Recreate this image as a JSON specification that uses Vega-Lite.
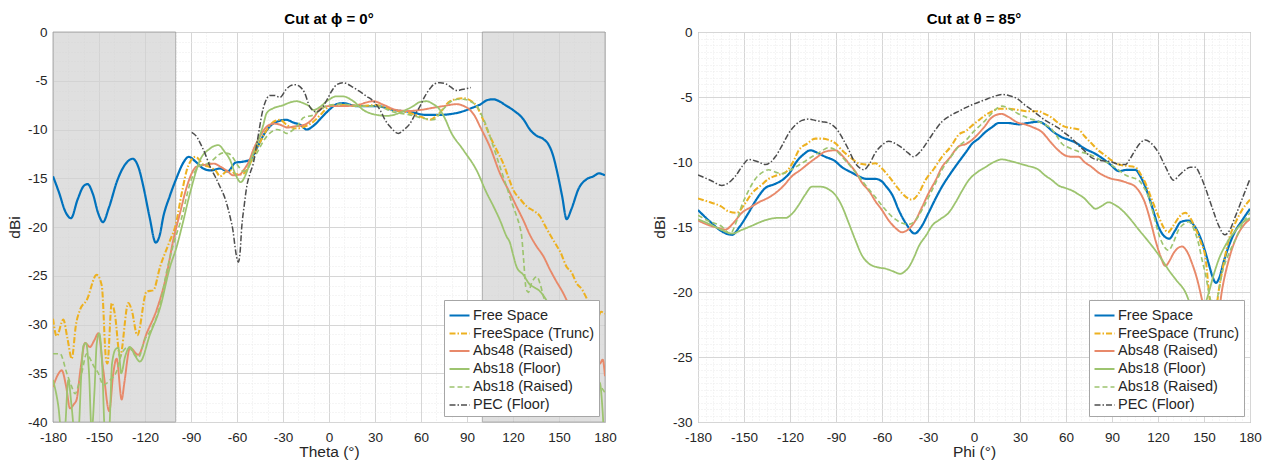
{
"$schema": "https://vega.github.io/schema/vega-lite/v6.json",
"padding": {"left": 6, "top": 11, "right": 5, "bottom": 5},
"background": "white",
"config": {
  "font": "Liberation Sans",
  "view": {"stroke": "#8c8c8c", "strokeWidth": 1},
  "axis": {"domain": false, "ticks": false, "labelFontSize": 13.5, "titleFontSize": 15.5, "titleFontWeight": "normal", "labelColor": "#262626", "titleColor": "#262626", "labelOverlap": false, "labelFlush": false, "labelBound": false},
  "axisX": {"labelPadding": 8, "titlePadding": 1},
  "axisY": {"labelPadding": 6, "titlePadding": 5},
  "legend": {"orient": "bottom-right", "offset": 6, "fillColor": "white", "strokeColor": "#a6a6a6", "padding": 4, "labelFontSize": 14.5, "labelColor": "#262626", "symbolType": "stroke", "symbolSize": 400, "rowPadding": 0, "labelOffset": 2, "title": null}
},
"datasets": {
"shade": [{"t": -180, "t2": -100}, {"t": 100, "t2": 180}],
"phi0": [
{"s":"Free Space","t":-180,"v":-14.8},{"s":"Free Space","t":-176,"v":-16.5},{"s":"Free Space","t":-172,"v":-18.4},{"s":"Free Space","t":-168.3,"v":-19.1},{"s":"Free Space","t":-164,"v":-17.2},{"s":"Free Space","t":-160,"v":-15.8},{"s":"Free Space","t":-157.5,"v":-15.6},{"s":"Free Space","t":-154,"v":-16.6},{"s":"Free Space","t":-150.5,"v":-18.6},{"s":"Free Space","t":-147.4,"v":-19.5},{"s":"Free Space","t":-143.5,"v":-18.0},{"s":"Free Space","t":-138,"v":-15.2},{"s":"Free Space","t":-133,"v":-13.6},{"s":"Free Space","t":-128,"v":-13.0},{"s":"Free Space","t":-124,"v":-14.0},{"s":"Free Space","t":-121,"v":-15.9},{"s":"Free Space","t":-117,"v":-19.0},{"s":"Free Space","t":-113,"v":-21.6},{"s":"Free Space","t":-110.5,"v":-20.9},{"s":"Free Space","t":-108,"v":-18.9},{"s":"Free Space","t":-104,"v":-16.9},{"s":"Free Space","t":-99.5,"v":-15.0},{"s":"Free Space","t":-95,"v":-13.4},{"s":"Free Space","t":-91.5,"v":-12.8},{"s":"Free Space","t":-87,"v":-13.3},{"s":"Free Space","t":-82,"v":-14.0},{"s":"Free Space","t":-77,"v":-14.2},{"s":"Free Space","t":-71,"v":-14.0},{"s":"Free Space","t":-66,"v":-14.3},{"s":"Free Space","t":-61,"v":-13.4},{"s":"Free Space","t":-56,"v":-13.3},{"s":"Free Space","t":-51.5,"v":-13.1},{"s":"Free Space","t":-47,"v":-11.9},{"s":"Free Space","t":-42.8,"v":-10.6},{"s":"Free Space","t":-38,"v":-9.6},{"s":"Free Space","t":-34,"v":-9.2},{"s":"Free Space","t":-28,"v":-9.0},{"s":"Free Space","t":-23,"v":-9.3},{"s":"Free Space","t":-19,"v":-9.5},{"s":"Free Space","t":-14.5,"v":-10.0},{"s":"Free Space","t":-10,"v":-9.6},{"s":"Free Space","t":-5,"v":-8.8},{"s":"Free Space","t":0.7,"v":-7.9},{"s":"Free Space","t":5,"v":-7.4},{"s":"Free Space","t":9.3,"v":-7.3},{"s":"Free Space","t":18,"v":-7.6},{"s":"Free Space","t":31,"v":-7.6},{"s":"Free Space","t":42,"v":-8.0},{"s":"Free Space","t":53,"v":-8.2},{"s":"Free Space","t":63,"v":-8.5},{"s":"Free Space","t":72,"v":-8.5},{"s":"Free Space","t":80,"v":-8.4},{"s":"Free Space","t":86,"v":-8.2},{"s":"Free Space","t":93,"v":-7.8},{"s":"Free Space","t":99,"v":-7.4},{"s":"Free Space","t":103,"v":-7.0},{"s":"Free Space","t":107,"v":-6.9},{"s":"Free Space","t":111,"v":-7.1},{"s":"Free Space","t":115,"v":-7.5},{"s":"Free Space","t":120,"v":-8.0},{"s":"Free Space","t":127,"v":-9.0},{"s":"Free Space","t":131,"v":-10.0},{"s":"Free Space","t":135,"v":-10.6},{"s":"Free Space","t":140,"v":-11.0},{"s":"Free Space","t":143,"v":-11.5},{"s":"Free Space","t":146,"v":-12.6},{"s":"Free Space","t":149,"v":-14.5},{"s":"Free Space","t":152,"v":-16.8},{"s":"Free Space","t":155,"v":-19.2},{"s":"Free Space","t":158,"v":-18.2},{"s":"Free Space","t":163,"v":-16.0},{"s":"Free Space","t":168,"v":-15.1},{"s":"Free Space","t":172.5,"v":-14.8},{"s":"Free Space","t":176,"v":-14.5},{"s":"Free Space","t":180,"v":-14.7},
{"s":"FreeSpace (Trunc)","t":-180,"v":-29.4},{"s":"FreeSpace (Trunc)","t":-177.6,"v":-31.2},{"s":"FreeSpace (Trunc)","t":-173.3,"v":-29.5},{"s":"FreeSpace (Trunc)","t":-170.5,"v":-31.5},{"s":"FreeSpace (Trunc)","t":-167.8,"v":-33.5},{"s":"FreeSpace (Trunc)","t":-165,"v":-30.0},{"s":"FreeSpace (Trunc)","t":-162.4,"v":-28.5},{"s":"FreeSpace (Trunc)","t":-158,"v":-27.5},{"s":"FreeSpace (Trunc)","t":-151.5,"v":-24.9},{"s":"FreeSpace (Trunc)","t":-148.2,"v":-26.0},{"s":"FreeSpace (Trunc)","t":-145.4,"v":-33.6},{"s":"FreeSpace (Trunc)","t":-144.5,"v":-34.0},{"s":"FreeSpace (Trunc)","t":-141.7,"v":-27.8},{"s":"FreeSpace (Trunc)","t":-139.6,"v":-29.0},{"s":"FreeSpace (Trunc)","t":-136.3,"v":-33.3},{"s":"FreeSpace (Trunc)","t":-130.9,"v":-27.8},{"s":"FreeSpace (Trunc)","t":-128.7,"v":-28.5},{"s":"FreeSpace (Trunc)","t":-125,"v":-31.1},{"s":"FreeSpace (Trunc)","t":-118.9,"v":-26.6},{"s":"FreeSpace (Trunc)","t":-114.6,"v":-26.5},{"s":"FreeSpace (Trunc)","t":-110.2,"v":-24.1},{"s":"FreeSpace (Trunc)","t":-104,"v":-21.5},{"s":"FreeSpace (Trunc)","t":-100,"v":-19.8},{"s":"FreeSpace (Trunc)","t":-96,"v":-16.5},{"s":"FreeSpace (Trunc)","t":-92,"v":-13.8},{"s":"FreeSpace (Trunc)","t":-87,"v":-12.8},{"s":"FreeSpace (Trunc)","t":-82,"v":-13.6},{"s":"FreeSpace (Trunc)","t":-77,"v":-13.9},{"s":"FreeSpace (Trunc)","t":-74,"v":-14.2},{"s":"FreeSpace (Trunc)","t":-71,"v":-14.8},{"s":"FreeSpace (Trunc)","t":-67,"v":-14.3},{"s":"FreeSpace (Trunc)","t":-64,"v":-14.2},{"s":"FreeSpace (Trunc)","t":-61,"v":-14.6},{"s":"FreeSpace (Trunc)","t":-57,"v":-14.6},{"s":"FreeSpace (Trunc)","t":-53,"v":-14.0},{"s":"FreeSpace (Trunc)","t":-49,"v":-12.6},{"s":"FreeSpace (Trunc)","t":-45,"v":-11.3},{"s":"FreeSpace (Trunc)","t":-40,"v":-9.9},{"s":"FreeSpace (Trunc)","t":-36,"v":-9.2},{"s":"FreeSpace (Trunc)","t":-32,"v":-9.0},{"s":"FreeSpace (Trunc)","t":-27,"v":-9.6},{"s":"FreeSpace (Trunc)","t":-21,"v":-9.9},{"s":"FreeSpace (Trunc)","t":-16,"v":-9.7},{"s":"FreeSpace (Trunc)","t":-10.2,"v":-9.2},{"s":"FreeSpace (Trunc)","t":-5,"v":-8.4},{"s":"FreeSpace (Trunc)","t":0.6,"v":-7.6},{"s":"FreeSpace (Trunc)","t":9,"v":-7.5},{"s":"FreeSpace (Trunc)","t":20,"v":-7.6},{"s":"FreeSpace (Trunc)","t":31,"v":-7.5},{"s":"FreeSpace (Trunc)","t":42,"v":-8.0},{"s":"FreeSpace (Trunc)","t":52.8,"v":-8.3},{"s":"FreeSpace (Trunc)","t":60,"v":-8.7},{"s":"FreeSpace (Trunc)","t":65.9,"v":-9.0},{"s":"FreeSpace (Trunc)","t":72,"v":-8.3},{"s":"FreeSpace (Trunc)","t":79,"v":-7.1},{"s":"FreeSpace (Trunc)","t":87.6,"v":-6.8},{"s":"FreeSpace (Trunc)","t":93,"v":-7.1},{"s":"FreeSpace (Trunc)","t":96.3,"v":-7.6},{"s":"FreeSpace (Trunc)","t":100,"v":-8.8},{"s":"FreeSpace (Trunc)","t":105,"v":-10.7},{"s":"FreeSpace (Trunc)","t":109,"v":-12.0},{"s":"FreeSpace (Trunc)","t":113.7,"v":-13.5},{"s":"FreeSpace (Trunc)","t":117,"v":-14.9},{"s":"FreeSpace (Trunc)","t":120.2,"v":-16.2},{"s":"FreeSpace (Trunc)","t":125,"v":-17.2},{"s":"FreeSpace (Trunc)","t":129,"v":-17.9},{"s":"FreeSpace (Trunc)","t":133,"v":-18.3},{"s":"FreeSpace (Trunc)","t":137.6,"v":-18.9},{"s":"FreeSpace (Trunc)","t":141,"v":-19.9},{"s":"FreeSpace (Trunc)","t":144.2,"v":-20.8},{"s":"FreeSpace (Trunc)","t":148,"v":-21.8},{"s":"FreeSpace (Trunc)","t":151,"v":-22.6},{"s":"FreeSpace (Trunc)","t":155,"v":-24.1},{"s":"FreeSpace (Trunc)","t":158,"v":-24.6},{"s":"FreeSpace (Trunc)","t":161.6,"v":-25.8},{"s":"FreeSpace (Trunc)","t":165,"v":-26.4},{"s":"FreeSpace (Trunc)","t":168,"v":-27.3},{"s":"FreeSpace (Trunc)","t":171,"v":-28.2},{"s":"FreeSpace (Trunc)","t":174.6,"v":-29.5},{"s":"FreeSpace (Trunc)","t":177.5,"v":-28.7},{"s":"FreeSpace (Trunc)","t":180,"v":-28.9},
{"s":"Abs48 (Raised)","t":-180,"v":-36.4},{"s":"Abs48 (Raised)","t":-177,"v":-35.2},{"s":"Abs48 (Raised)","t":-174.3,"v":-34.7},{"s":"Abs48 (Raised)","t":-171.5,"v":-36.3},{"s":"Abs48 (Raised)","t":-168.9,"v":-38.6},{"s":"Abs48 (Raised)","t":-166.5,"v":-38.2},{"s":"Abs48 (Raised)","t":-164.6,"v":-37.7},{"s":"Abs48 (Raised)","t":-162,"v":-34.5},{"s":"Abs48 (Raised)","t":-159.1,"v":-31.9},{"s":"Abs48 (Raised)","t":-155.9,"v":-32.3},{"s":"Abs48 (Raised)","t":-153,"v":-31.6},{"s":"Abs48 (Raised)","t":-150.4,"v":-30.9},{"s":"Abs48 (Raised)","t":-147.2,"v":-34.7},{"s":"Abs48 (Raised)","t":-143.3,"v":-38.9},{"s":"Abs48 (Raised)","t":-140.7,"v":-35.0},{"s":"Abs48 (Raised)","t":-138.5,"v":-33.5},{"s":"Abs48 (Raised)","t":-135.2,"v":-37.7},{"s":"Abs48 (Raised)","t":-133.5,"v":-36.0},{"s":"Abs48 (Raised)","t":-129.8,"v":-32.4},{"s":"Abs48 (Raised)","t":-124.4,"v":-33.1},{"s":"Abs48 (Raised)","t":-118.9,"v":-30.9},{"s":"Abs48 (Raised)","t":-112.4,"v":-28.5},{"s":"Abs48 (Raised)","t":-105.8,"v":-24.8},{"s":"Abs48 (Raised)","t":-101.5,"v":-21.3},{"s":"Abs48 (Raised)","t":-97.2,"v":-18.6},{"s":"Abs48 (Raised)","t":-92.8,"v":-15.9},{"s":"Abs48 (Raised)","t":-86.3,"v":-13.8},{"s":"Abs48 (Raised)","t":-80,"v":-13.6},{"s":"Abs48 (Raised)","t":-75,"v":-13.5},{"s":"Abs48 (Raised)","t":-71,"v":-13.8},{"s":"Abs48 (Raised)","t":-66,"v":-14.3},{"s":"Abs48 (Raised)","t":-62.6,"v":-14.7},{"s":"Abs48 (Raised)","t":-58,"v":-14.6},{"s":"Abs48 (Raised)","t":-55.9,"v":-14.2},{"s":"Abs48 (Raised)","t":-52,"v":-13.2},{"s":"Abs48 (Raised)","t":-49.4,"v":-12.1},{"s":"Abs48 (Raised)","t":-45,"v":-10.7},{"s":"Abs48 (Raised)","t":-40.6,"v":-9.7},{"s":"Abs48 (Raised)","t":-36,"v":-9.4},{"s":"Abs48 (Raised)","t":-32,"v":-9.5},{"s":"Abs48 (Raised)","t":-27,"v":-9.8},{"s":"Abs48 (Raised)","t":-23.3,"v":-9.7},{"s":"Abs48 (Raised)","t":-18,"v":-9.6},{"s":"Abs48 (Raised)","t":-14.5,"v":-9.4},{"s":"Abs48 (Raised)","t":-10,"v":-8.8},{"s":"Abs48 (Raised)","t":-5.9,"v":-7.9},{"s":"Abs48 (Raised)","t":0,"v":-7.6},{"s":"Abs48 (Raised)","t":9,"v":-7.6},{"s":"Abs48 (Raised)","t":18,"v":-7.5},{"s":"Abs48 (Raised)","t":28.9,"v":-7.1},{"s":"Abs48 (Raised)","t":36,"v":-7.5},{"s":"Abs48 (Raised)","t":44,"v":-8.0},{"s":"Abs48 (Raised)","t":52,"v":-8.1},{"s":"Abs48 (Raised)","t":59.4,"v":-8.0},{"s":"Abs48 (Raised)","t":67,"v":-7.8},{"s":"Abs48 (Raised)","t":74.6,"v":-7.6},{"s":"Abs48 (Raised)","t":83.3,"v":-7.4},{"s":"Abs48 (Raised)","t":88,"v":-7.6},{"s":"Abs48 (Raised)","t":92,"v":-8.0},{"s":"Abs48 (Raised)","t":95,"v":-8.6},{"s":"Abs48 (Raised)","t":98.5,"v":-9.7},{"s":"Abs48 (Raised)","t":105,"v":-11.8},{"s":"Abs48 (Raised)","t":111.5,"v":-14.5},{"s":"Abs48 (Raised)","t":118,"v":-16.5},{"s":"Abs48 (Raised)","t":122,"v":-17.8},{"s":"Abs48 (Raised)","t":126.7,"v":-19.3},{"s":"Abs48 (Raised)","t":131,"v":-20.8},{"s":"Abs48 (Raised)","t":135,"v":-21.9},{"s":"Abs48 (Raised)","t":139.8,"v":-23.0},{"s":"Abs48 (Raised)","t":144.2,"v":-24.4},{"s":"Abs48 (Raised)","t":148,"v":-25.5},{"s":"Abs48 (Raised)","t":152.8,"v":-26.8},{"s":"Abs48 (Raised)","t":157,"v":-28.2},{"s":"Abs48 (Raised)","t":161,"v":-29.6},{"s":"Abs48 (Raised)","t":165,"v":-31.0},{"s":"Abs48 (Raised)","t":169,"v":-32.5},{"s":"Abs48 (Raised)","t":173,"v":-33.6},{"s":"Abs48 (Raised)","t":176.7,"v":-34.0},{"s":"Abs48 (Raised)","t":178.5,"v":-33.6},{"s":"Abs48 (Raised)","t":180,"v":-35.3},
{"s":"Abs18 (Floor)","t":-180,"v":-35.7},{"s":"Abs18 (Floor)","t":-176.5,"v":-38.4},{"s":"Abs18 (Floor)","t":-174.5,"v":-41},{"s":"Abs18 (Floor)","t":-172.5,"v":-41},{"s":"Abs18 (Floor)","t":-170,"v":-35.7},{"s":"Abs18 (Floor)","t":-167.8,"v":-38.5},{"s":"Abs18 (Floor)","t":-166,"v":-41},{"s":"Abs18 (Floor)","t":-163.5,"v":-41},{"s":"Abs18 (Floor)","t":-161.5,"v":-35},{"s":"Abs18 (Floor)","t":-160.2,"v":-32.2},{"s":"Abs18 (Floor)","t":-158.5,"v":-31.9},{"s":"Abs18 (Floor)","t":-156.5,"v":-35},{"s":"Abs18 (Floor)","t":-154.8,"v":-41},{"s":"Abs18 (Floor)","t":-153,"v":-37},{"s":"Abs18 (Floor)","t":-151.5,"v":-32},{"s":"Abs18 (Floor)","t":-149.8,"v":-30.9},{"s":"Abs18 (Floor)","t":-148,"v":-34},{"s":"Abs18 (Floor)","t":-146.1,"v":-41},{"s":"Abs18 (Floor)","t":-143.5,"v":-41},{"s":"Abs18 (Floor)","t":-141.5,"v":-34},{"s":"Abs18 (Floor)","t":-139,"v":-32.5},{"s":"Abs18 (Floor)","t":-137.4,"v":-32.4},{"s":"Abs18 (Floor)","t":-135.5,"v":-35},{"s":"Abs18 (Floor)","t":-133,"v":-33.3},{"s":"Abs18 (Floor)","t":-129.8,"v":-32.3},{"s":"Abs18 (Floor)","t":-126.5,"v":-33.2},{"s":"Abs18 (Floor)","t":-123.3,"v":-33.8},{"s":"Abs18 (Floor)","t":-116.7,"v":-31.0},{"s":"Abs18 (Floor)","t":-110.2,"v":-28.3},{"s":"Abs18 (Floor)","t":-103.7,"v":-24.1},{"s":"Abs18 (Floor)","t":-99.3,"v":-22.0},{"s":"Abs18 (Floor)","t":-96,"v":-20.0},{"s":"Abs18 (Floor)","t":-90.6,"v":-16.5},{"s":"Abs18 (Floor)","t":-84,"v":-13.1},{"s":"Abs18 (Floor)","t":-78,"v":-12.0},{"s":"Abs18 (Floor)","t":-72.2,"v":-11.6},{"s":"Abs18 (Floor)","t":-68,"v":-12.3},{"s":"Abs18 (Floor)","t":-64.6,"v":-13.1},{"s":"Abs18 (Floor)","t":-61,"v":-14.6},{"s":"Abs18 (Floor)","t":-57.6,"v":-15.4},{"s":"Abs18 (Floor)","t":-54,"v":-14.5},{"s":"Abs18 (Floor)","t":-51,"v":-13.1},{"s":"Abs18 (Floor)","t":-47,"v":-11.5},{"s":"Abs18 (Floor)","t":-43,"v":-9.6},{"s":"Abs18 (Floor)","t":-40.6,"v":-8.3},{"s":"Abs18 (Floor)","t":-36,"v":-7.8},{"s":"Abs18 (Floor)","t":-29.8,"v":-7.5},{"s":"Abs18 (Floor)","t":-25,"v":-7.2},{"s":"Abs18 (Floor)","t":-21.1,"v":-7.1},{"s":"Abs18 (Floor)","t":-16.8,"v":-7.3},{"s":"Abs18 (Floor)","t":-13,"v":-7.6},{"s":"Abs18 (Floor)","t":-10.2,"v":-8.0},{"s":"Abs18 (Floor)","t":-6,"v":-7.7},{"s":"Abs18 (Floor)","t":-1.5,"v":-7.1},{"s":"Abs18 (Floor)","t":5,"v":-6.6},{"s":"Abs18 (Floor)","t":9,"v":-6.6},{"s":"Abs18 (Floor)","t":15.9,"v":-7.1},{"s":"Abs18 (Floor)","t":22.4,"v":-8.0},{"s":"Abs18 (Floor)","t":31.1,"v":-8.5},{"s":"Abs18 (Floor)","t":38,"v":-8.6},{"s":"Abs18 (Floor)","t":44.2,"v":-8.4},{"s":"Abs18 (Floor)","t":50,"v":-8.0},{"s":"Abs18 (Floor)","t":55,"v":-7.6},{"s":"Abs18 (Floor)","t":59,"v":-7.2},{"s":"Abs18 (Floor)","t":63.7,"v":-7.1},{"s":"Abs18 (Floor)","t":68,"v":-7.4},{"s":"Abs18 (Floor)","t":72.4,"v":-8.0},{"s":"Abs18 (Floor)","t":76,"v":-9.0},{"s":"Abs18 (Floor)","t":79,"v":-10.1},{"s":"Abs18 (Floor)","t":87.6,"v":-12.1},{"s":"Abs18 (Floor)","t":96.3,"v":-14.2},{"s":"Abs18 (Floor)","t":102.8,"v":-16.5},{"s":"Abs18 (Floor)","t":107,"v":-17.8},{"s":"Abs18 (Floor)","t":111.5,"v":-19.3},{"s":"Abs18 (Floor)","t":115.9,"v":-21.0},{"s":"Abs18 (Floor)","t":118,"v":-21.6},{"s":"Abs18 (Floor)","t":120,"v":-22.8},{"s":"Abs18 (Floor)","t":122.4,"v":-24.1},{"s":"Abs18 (Floor)","t":126.7,"v":-24.9},{"s":"Abs18 (Floor)","t":131,"v":-25.9},{"s":"Abs18 (Floor)","t":134,"v":-26.2},{"s":"Abs18 (Floor)","t":137.6,"v":-26.6},{"s":"Abs18 (Floor)","t":141,"v":-27.3},{"s":"Abs18 (Floor)","t":145,"v":-28.5},{"s":"Abs18 (Floor)","t":150,"v":-29.8},{"s":"Abs18 (Floor)","t":155,"v":-31.0},{"s":"Abs18 (Floor)","t":160,"v":-32.2},{"s":"Abs18 (Floor)","t":165,"v":-33.5},{"s":"Abs18 (Floor)","t":170,"v":-34.8},{"s":"Abs18 (Floor)","t":174,"v":-35.6},{"s":"Abs18 (Floor)","t":176.7,"v":-36.0},{"s":"Abs18 (Floor)","t":178.5,"v":-39.0},{"s":"Abs18 (Floor)","t":179.3,"v":-41},{"s":"Abs18 (Floor)","t":180,"v":-41},
{"s":"Abs18 (Raised)","t":-180,"v":-33.0},{"s":"Abs18 (Raised)","t":-175.4,"v":-33.0},{"s":"Abs18 (Raised)","t":-171,"v":-35.0},{"s":"Abs18 (Raised)","t":-168,"v":-36.3},{"s":"Abs18 (Raised)","t":-165.6,"v":-37.1},{"s":"Abs18 (Raised)","t":-163,"v":-36.0},{"s":"Abs18 (Raised)","t":-161.3,"v":-35.0},{"s":"Abs18 (Raised)","t":-158,"v":-33.0},{"s":"Abs18 (Raised)","t":-155.5,"v":-33.6},{"s":"Abs18 (Raised)","t":-153.7,"v":-34.2},{"s":"Abs18 (Raised)","t":-150.4,"v":-35.0},{"s":"Abs18 (Raised)","t":-147.2,"v":-36.2},{"s":"Abs18 (Raised)","t":-142.8,"v":-35.7},{"s":"Abs18 (Raised)","t":-138.5,"v":-34.8},{"s":"Abs18 (Raised)","t":-135.2,"v":-33.0},{"s":"Abs18 (Raised)","t":-130.9,"v":-32.3},{"s":"Abs18 (Raised)","t":-127.5,"v":-32.9},{"s":"Abs18 (Raised)","t":-124.4,"v":-33.4},{"s":"Abs18 (Raised)","t":-120,"v":-31.5},{"s":"Abs18 (Raised)","t":-116.7,"v":-30.7},{"s":"Abs18 (Raised)","t":-110.2,"v":-28.0},{"s":"Abs18 (Raised)","t":-105.8,"v":-24.5},{"s":"Abs18 (Raised)","t":-101.5,"v":-21.8},{"s":"Abs18 (Raised)","t":-96,"v":-19.0},{"s":"Abs18 (Raised)","t":-90.6,"v":-15.5},{"s":"Abs18 (Raised)","t":-84,"v":-13.7},{"s":"Abs18 (Raised)","t":-79,"v":-13.5},{"s":"Abs18 (Raised)","t":-75.5,"v":-13.1},{"s":"Abs18 (Raised)","t":-72,"v":-12.6},{"s":"Abs18 (Raised)","t":-68.9,"v":-12.4},{"s":"Abs18 (Raised)","t":-65,"v":-12.5},{"s":"Abs18 (Raised)","t":-62.6,"v":-12.9},{"s":"Abs18 (Raised)","t":-59,"v":-13.8},{"s":"Abs18 (Raised)","t":-55.9,"v":-14.3},{"s":"Abs18 (Raised)","t":-51,"v":-13.5},{"s":"Abs18 (Raised)","t":-47,"v":-12.4},{"s":"Abs18 (Raised)","t":-42,"v":-11.0},{"s":"Abs18 (Raised)","t":-38,"v":-10.3},{"s":"Abs18 (Raised)","t":-34,"v":-10.0},{"s":"Abs18 (Raised)","t":-30,"v":-10.2},{"s":"Abs18 (Raised)","t":-27.6,"v":-10.4},{"s":"Abs18 (Raised)","t":-24,"v":-10.1},{"s":"Abs18 (Raised)","t":-20,"v":-9.5},{"s":"Abs18 (Raised)","t":-16.8,"v":-8.8},{"s":"Abs18 (Raised)","t":-10.2,"v":-8.5},{"s":"Abs18 (Raised)","t":-5.9,"v":-8.0},{"s":"Abs18 (Raised)","t":0,"v":-7.5},{"s":"Abs18 (Raised)","t":9,"v":-7.4},{"s":"Abs18 (Raised)","t":20,"v":-7.6},{"s":"Abs18 (Raised)","t":31,"v":-7.6},{"s":"Abs18 (Raised)","t":42,"v":-8.2},{"s":"Abs18 (Raised)","t":52.8,"v":-8.5},{"s":"Abs18 (Raised)","t":60,"v":-8.8},{"s":"Abs18 (Raised)","t":68,"v":-9.0},{"s":"Abs18 (Raised)","t":74,"v":-8.0},{"s":"Abs18 (Raised)","t":79,"v":-7.2},{"s":"Abs18 (Raised)","t":84,"v":-6.9},{"s":"Abs18 (Raised)","t":87.6,"v":-6.9},{"s":"Abs18 (Raised)","t":92,"v":-7.1},{"s":"Abs18 (Raised)","t":96.3,"v":-7.6},{"s":"Abs18 (Raised)","t":99.5,"v":-8.5},{"s":"Abs18 (Raised)","t":102.8,"v":-9.7},{"s":"Abs18 (Raised)","t":106,"v":-11.2},{"s":"Abs18 (Raised)","t":109.4,"v":-12.8},{"s":"Abs18 (Raised)","t":112.5,"v":-14.3},{"s":"Abs18 (Raised)","t":115.9,"v":-15.9},{"s":"Abs18 (Raised)","t":119,"v":-17.4},{"s":"Abs18 (Raised)","t":122.4,"v":-18.9},{"s":"Abs18 (Raised)","t":124.5,"v":-20.0},{"s":"Abs18 (Raised)","t":125.7,"v":-21.0},{"s":"Abs18 (Raised)","t":127,"v":-23.5},{"s":"Abs18 (Raised)","t":128.5,"v":-26.3},{"s":"Abs18 (Raised)","t":130,"v":-26.7},{"s":"Abs18 (Raised)","t":132,"v":-25.8},{"s":"Abs18 (Raised)","t":135.5,"v":-25.1},{"s":"Abs18 (Raised)","t":138,"v":-26.0},{"s":"Abs18 (Raised)","t":139.8,"v":-27.1},{"s":"Abs18 (Raised)","t":144,"v":-28.8},{"s":"Abs18 (Raised)","t":150,"v":-30.5},{"s":"Abs18 (Raised)","t":155,"v":-31.5},{"s":"Abs18 (Raised)","t":160,"v":-32.5},{"s":"Abs18 (Raised)","t":165,"v":-33.5},{"s":"Abs18 (Raised)","t":170,"v":-34.6},{"s":"Abs18 (Raised)","t":174,"v":-35.6},{"s":"Abs18 (Raised)","t":177,"v":-36.3},{"s":"Abs18 (Raised)","t":180,"v":-37.0},
{"s":"PEC (Floor)","t":-89.5,"v":-10.3},{"s":"PEC (Floor)","t":-86,"v":-10.8},{"s":"PEC (Floor)","t":-84,"v":-11.4},{"s":"PEC (Floor)","t":-80.5,"v":-12.6},{"s":"PEC (Floor)","t":-77.6,"v":-13.8},{"s":"PEC (Floor)","t":-74,"v":-14.9},{"s":"PEC (Floor)","t":-71,"v":-15.9},{"s":"PEC (Floor)","t":-67.5,"v":-17.2},{"s":"PEC (Floor)","t":-64.6,"v":-18.9},{"s":"PEC (Floor)","t":-62.5,"v":-20.5},{"s":"PEC (Floor)","t":-61.3,"v":-22.0},{"s":"PEC (Floor)","t":-59.8,"v":-23.4},{"s":"PEC (Floor)","t":-59.1,"v":-23.6},{"s":"PEC (Floor)","t":-58,"v":-22.6},{"s":"PEC (Floor)","t":-56.9,"v":-20.0},{"s":"PEC (Floor)","t":-55.3,"v":-17.8},{"s":"PEC (Floor)","t":-53.7,"v":-15.9},{"s":"PEC (Floor)","t":-51.5,"v":-14.5},{"s":"PEC (Floor)","t":-49.4,"v":-13.5},{"s":"PEC (Floor)","t":-47,"v":-11.4},{"s":"PEC (Floor)","t":-43,"v":-7.9},{"s":"PEC (Floor)","t":-40.5,"v":-6.8},{"s":"PEC (Floor)","t":-38.5,"v":-6.5},{"s":"PEC (Floor)","t":-35.5,"v":-6.5},{"s":"PEC (Floor)","t":-32,"v":-6.7},{"s":"PEC (Floor)","t":-28,"v":-5.9},{"s":"PEC (Floor)","t":-25,"v":-5.5},{"s":"PEC (Floor)","t":-22.2,"v":-5.4},{"s":"PEC (Floor)","t":-19,"v":-5.6},{"s":"PEC (Floor)","t":-16,"v":-6.2},{"s":"PEC (Floor)","t":-12.4,"v":-7.7},{"s":"PEC (Floor)","t":-8,"v":-8.2},{"s":"PEC (Floor)","t":-4.5,"v":-7.8},{"s":"PEC (Floor)","t":-1.5,"v":-7.0},{"s":"PEC (Floor)","t":2,"v":-6.0},{"s":"PEC (Floor)","t":5,"v":-5.4},{"s":"PEC (Floor)","t":9.3,"v":-5.2},{"s":"PEC (Floor)","t":15.9,"v":-5.7},{"s":"PEC (Floor)","t":20,"v":-6.1},{"s":"PEC (Floor)","t":24.6,"v":-6.6},{"s":"PEC (Floor)","t":29,"v":-7.1},{"s":"PEC (Floor)","t":33.3,"v":-8.0},{"s":"PEC (Floor)","t":36.5,"v":-9.0},{"s":"PEC (Floor)","t":39.8,"v":-9.7},{"s":"PEC (Floor)","t":45.2,"v":-10.4},{"s":"PEC (Floor)","t":49,"v":-10.0},{"s":"PEC (Floor)","t":52.8,"v":-9.4},{"s":"PEC (Floor)","t":56,"v":-8.5},{"s":"PEC (Floor)","t":59.4,"v":-7.6},{"s":"PEC (Floor)","t":62.5,"v":-6.6},{"s":"PEC (Floor)","t":65.9,"v":-5.8},{"s":"PEC (Floor)","t":69,"v":-5.3},{"s":"PEC (Floor)","t":72.4,"v":-5.2},{"s":"PEC (Floor)","t":76,"v":-5.3},{"s":"PEC (Floor)","t":79,"v":-5.6},{"s":"PEC (Floor)","t":83.3,"v":-6.0},{"s":"PEC (Floor)","t":86.5,"v":-5.9},{"s":"PEC (Floor)","t":89.8,"v":-5.8},{"s":"PEC (Floor)","t":92.5,"v":-5.7}
],
"theta85": [
{"s":"Free Space","t":-180,"v":-13.7},{"s":"Free Space","t":-172,"v":-14.6},{"s":"Free Space","t":-165,"v":-15.3},{"s":"Free Space","t":-157.8,"v":-15.6},{"s":"Free Space","t":-153,"v":-15.0},{"s":"Free Space","t":-147,"v":-13.9},{"s":"Free Space","t":-142,"v":-12.9},{"s":"Free Space","t":-136.1,"v":-12.0},{"s":"Free Space","t":-130,"v":-11.7},{"s":"Free Space","t":-125.2,"v":-11.4},{"s":"Free Space","t":-120,"v":-10.8},{"s":"Free Space","t":-116.5,"v":-10.1},{"s":"Free Space","t":-111,"v":-9.4},{"s":"Free Space","t":-106.7,"v":-9.1},{"s":"Free Space","t":-102,"v":-9.3},{"s":"Free Space","t":-97,"v":-9.6},{"s":"Free Space","t":-91,"v":-9.9},{"s":"Free Space","t":-86.1,"v":-10.4},{"s":"Free Space","t":-80,"v":-10.8},{"s":"Free Space","t":-75.2,"v":-11.1},{"s":"Free Space","t":-70,"v":-11.3},{"s":"Free Space","t":-64.4,"v":-11.3},{"s":"Free Space","t":-60,"v":-11.5},{"s":"Free Space","t":-57.8,"v":-11.8},{"s":"Free Space","t":-53,"v":-12.6},{"s":"Free Space","t":-49.1,"v":-13.7},{"s":"Free Space","t":-44,"v":-14.8},{"s":"Free Space","t":-38.7,"v":-15.5},{"s":"Free Space","t":-35,"v":-15.1},{"s":"Free Space","t":-29.6,"v":-13.9},{"s":"Free Space","t":-25,"v":-12.8},{"s":"Free Space","t":-20.9,"v":-11.9},{"s":"Free Space","t":-16,"v":-11.0},{"s":"Free Space","t":-10,"v":-10.0},{"s":"Free Space","t":-5,"v":-9.2},{"s":"Free Space","t":-1.3,"v":-8.6},{"s":"Free Space","t":3,"v":-8.2},{"s":"Free Space","t":7.4,"v":-7.7},{"s":"Free Space","t":12,"v":-7.3},{"s":"Free Space","t":16.1,"v":-7.0},{"s":"Free Space","t":22,"v":-7.0},{"s":"Free Space","t":29.1,"v":-7.1},{"s":"Free Space","t":35,"v":-7.0},{"s":"Free Space","t":42.2,"v":-6.9},{"s":"Free Space","t":46,"v":-7.1},{"s":"Free Space","t":50.9,"v":-7.6},{"s":"Free Space","t":57.4,"v":-8.1},{"s":"Free Space","t":62,"v":-8.3},{"s":"Free Space","t":66.1,"v":-8.5},{"s":"Free Space","t":72.6,"v":-9.0},{"s":"Free Space","t":78,"v":-9.3},{"s":"Free Space","t":83.5,"v":-9.7},{"s":"Free Space","t":89,"v":-10.2},{"s":"Free Space","t":94.4,"v":-10.7},{"s":"Free Space","t":100,"v":-10.6},{"s":"Free Space","t":105.2,"v":-10.6},{"s":"Free Space","t":108.5,"v":-11.1},{"s":"Free Space","t":111.7,"v":-11.9},{"s":"Free Space","t":116,"v":-13.4},{"s":"Free Space","t":120.4,"v":-15.0},{"s":"Free Space","t":124,"v":-15.7},{"s":"Free Space","t":127.4,"v":-15.9},{"s":"Free Space","t":131,"v":-15.3},{"s":"Free Space","t":135,"v":-14.6},{"s":"Free Space","t":140,"v":-14.5},{"s":"Free Space","t":143,"v":-14.8},{"s":"Free Space","t":146.5,"v":-15.5},{"s":"Free Space","t":150,"v":-16.6},{"s":"Free Space","t":153,"v":-17.8},{"s":"Free Space","t":155.5,"v":-18.8},{"s":"Free Space","t":157.8,"v":-19.3},{"s":"Free Space","t":160,"v":-18.9},{"s":"Free Space","t":163,"v":-17.6},{"s":"Free Space","t":166.1,"v":-16.5},{"s":"Free Space","t":170,"v":-15.4},{"s":"Free Space","t":174.8,"v":-14.5},{"s":"Free Space","t":180,"v":-13.6},
{"s":"FreeSpace (Trunc)","t":-180,"v":-12.8},{"s":"FreeSpace (Trunc)","t":-172,"v":-13.1},{"s":"FreeSpace (Trunc)","t":-165.2,"v":-13.4},{"s":"FreeSpace (Trunc)","t":-160,"v":-13.8},{"s":"FreeSpace (Trunc)","t":-154.6,"v":-13.9},{"s":"FreeSpace (Trunc)","t":-150,"v":-13.3},{"s":"FreeSpace (Trunc)","t":-144.8,"v":-12.4},{"s":"FreeSpace (Trunc)","t":-139,"v":-11.8},{"s":"FreeSpace (Trunc)","t":-133.9,"v":-11.3},{"s":"FreeSpace (Trunc)","t":-128,"v":-11.0},{"s":"FreeSpace (Trunc)","t":-123,"v":-10.8},{"s":"FreeSpace (Trunc)","t":-118,"v":-10.0},{"s":"FreeSpace (Trunc)","t":-114.3,"v":-9.1},{"s":"FreeSpace (Trunc)","t":-109,"v":-8.6},{"s":"FreeSpace (Trunc)","t":-103.5,"v":-8.2},{"s":"FreeSpace (Trunc)","t":-99,"v":-8.2},{"s":"FreeSpace (Trunc)","t":-94.8,"v":-8.3},{"s":"FreeSpace (Trunc)","t":-90,"v":-8.6},{"s":"FreeSpace (Trunc)","t":-86.1,"v":-9.1},{"s":"FreeSpace (Trunc)","t":-80,"v":-9.7},{"s":"FreeSpace (Trunc)","t":-75.2,"v":-10.1},{"s":"FreeSpace (Trunc)","t":-70,"v":-10.2},{"s":"FreeSpace (Trunc)","t":-64.4,"v":-10.1},{"s":"FreeSpace (Trunc)","t":-60,"v":-10.5},{"s":"FreeSpace (Trunc)","t":-55.6,"v":-11.1},{"s":"FreeSpace (Trunc)","t":-51,"v":-11.8},{"s":"FreeSpace (Trunc)","t":-47,"v":-12.4},{"s":"FreeSpace (Trunc)","t":-40.4,"v":-12.9},{"s":"FreeSpace (Trunc)","t":-36,"v":-12.4},{"s":"FreeSpace (Trunc)","t":-31.7,"v":-11.4},{"s":"FreeSpace (Trunc)","t":-26,"v":-10.5},{"s":"FreeSpace (Trunc)","t":-20.9,"v":-9.6},{"s":"FreeSpace (Trunc)","t":-15,"v":-8.8},{"s":"FreeSpace (Trunc)","t":-10,"v":-7.9},{"s":"FreeSpace (Trunc)","t":-5,"v":-7.6},{"s":"FreeSpace (Trunc)","t":-1.3,"v":-7.2},{"s":"FreeSpace (Trunc)","t":3,"v":-6.8},{"s":"FreeSpace (Trunc)","t":7.4,"v":-6.4},{"s":"FreeSpace (Trunc)","t":12,"v":-6.1},{"s":"FreeSpace (Trunc)","t":16.1,"v":-5.9},{"s":"FreeSpace (Trunc)","t":22,"v":-5.9},{"s":"FreeSpace (Trunc)","t":29.1,"v":-6.0},{"s":"FreeSpace (Trunc)","t":35,"v":-6.1},{"s":"FreeSpace (Trunc)","t":42.2,"v":-6.1},{"s":"FreeSpace (Trunc)","t":46,"v":-6.3},{"s":"FreeSpace (Trunc)","t":50.9,"v":-6.6},{"s":"FreeSpace (Trunc)","t":55,"v":-7.0},{"s":"FreeSpace (Trunc)","t":59.6,"v":-7.3},{"s":"FreeSpace (Trunc)","t":64,"v":-7.4},{"s":"FreeSpace (Trunc)","t":68.3,"v":-7.5},{"s":"FreeSpace (Trunc)","t":72,"v":-8.0},{"s":"FreeSpace (Trunc)","t":76.9,"v":-8.6},{"s":"FreeSpace (Trunc)","t":81,"v":-9.1},{"s":"FreeSpace (Trunc)","t":85.6,"v":-9.5},{"s":"FreeSpace (Trunc)","t":90,"v":-9.9},{"s":"FreeSpace (Trunc)","t":94.4,"v":-10.2},{"s":"FreeSpace (Trunc)","t":100,"v":-10.3},{"s":"FreeSpace (Trunc)","t":105.2,"v":-10.4},{"s":"FreeSpace (Trunc)","t":108.5,"v":-10.9},{"s":"FreeSpace (Trunc)","t":111.7,"v":-11.6},{"s":"FreeSpace (Trunc)","t":116,"v":-12.9},{"s":"FreeSpace (Trunc)","t":120.4,"v":-14.2},{"s":"FreeSpace (Trunc)","t":123.5,"v":-15.0},{"s":"FreeSpace (Trunc)","t":126.5,"v":-15.4},{"s":"FreeSpace (Trunc)","t":130,"v":-14.9},{"s":"FreeSpace (Trunc)","t":134,"v":-14.2},{"s":"FreeSpace (Trunc)","t":137.8,"v":-13.9},{"s":"FreeSpace (Trunc)","t":141,"v":-14.3},{"s":"FreeSpace (Trunc)","t":144.4,"v":-15.1},{"s":"FreeSpace (Trunc)","t":148,"v":-16.2},{"s":"FreeSpace (Trunc)","t":150.9,"v":-17.3},{"s":"FreeSpace (Trunc)","t":154.1,"v":-20.9},{"s":"FreeSpace (Trunc)","t":156,"v":-21.8},{"s":"FreeSpace (Trunc)","t":157.5,"v":-21.6},{"s":"FreeSpace (Trunc)","t":159.6,"v":-19.9},{"s":"FreeSpace (Trunc)","t":162.5,"v":-18.0},{"s":"FreeSpace (Trunc)","t":166.1,"v":-16.0},{"s":"FreeSpace (Trunc)","t":170,"v":-14.8},{"s":"FreeSpace (Trunc)","t":174.8,"v":-13.7},{"s":"FreeSpace (Trunc)","t":180,"v":-12.9},
{"s":"Abs48 (Raised)","t":-180,"v":-14.5},{"s":"Abs48 (Raised)","t":-172,"v":-14.9},{"s":"Abs48 (Raised)","t":-166,"v":-15.1},{"s":"Abs48 (Raised)","t":-162.2,"v":-15.2},{"s":"Abs48 (Raised)","t":-157,"v":-14.7},{"s":"Abs48 (Raised)","t":-151.3,"v":-13.9},{"s":"Abs48 (Raised)","t":-146,"v":-13.5},{"s":"Abs48 (Raised)","t":-140.4,"v":-13.1},{"s":"Abs48 (Raised)","t":-135,"v":-12.8},{"s":"Abs48 (Raised)","t":-129.6,"v":-12.4},{"s":"Abs48 (Raised)","t":-124,"v":-11.8},{"s":"Abs48 (Raised)","t":-118.8,"v":-11.1},{"s":"Abs48 (Raised)","t":-113,"v":-10.6},{"s":"Abs48 (Raised)","t":-107.8,"v":-10.1},{"s":"Abs48 (Raised)","t":-102,"v":-9.6},{"s":"Abs48 (Raised)","t":-97,"v":-9.2},{"s":"Abs48 (Raised)","t":-90.4,"v":-9.1},{"s":"Abs48 (Raised)","t":-86,"v":-9.5},{"s":"Abs48 (Raised)","t":-81.7,"v":-10.1},{"s":"Abs48 (Raised)","t":-77,"v":-10.8},{"s":"Abs48 (Raised)","t":-73,"v":-11.6},{"s":"Abs48 (Raised)","t":-68,"v":-12.3},{"s":"Abs48 (Raised)","t":-64.4,"v":-13.0},{"s":"Abs48 (Raised)","t":-60,"v":-13.7},{"s":"Abs48 (Raised)","t":-55.6,"v":-14.5},{"s":"Abs48 (Raised)","t":-51,"v":-15.1},{"s":"Abs48 (Raised)","t":-47,"v":-15.4},{"s":"Abs48 (Raised)","t":-43,"v":-15.2},{"s":"Abs48 (Raised)","t":-38.2,"v":-14.5},{"s":"Abs48 (Raised)","t":-34,"v":-13.5},{"s":"Abs48 (Raised)","t":-29.6,"v":-12.4},{"s":"Abs48 (Raised)","t":-25,"v":-11.4},{"s":"Abs48 (Raised)","t":-20.9,"v":-10.4},{"s":"Abs48 (Raised)","t":-16,"v":-9.7},{"s":"Abs48 (Raised)","t":-10,"v":-8.8},{"s":"Abs48 (Raised)","t":-5,"v":-8.6},{"s":"Abs48 (Raised)","t":-1.3,"v":-8.3},{"s":"Abs48 (Raised)","t":3,"v":-7.8},{"s":"Abs48 (Raised)","t":7.4,"v":-7.2},{"s":"Abs48 (Raised)","t":10.5,"v":-6.7},{"s":"Abs48 (Raised)","t":14,"v":-6.4},{"s":"Abs48 (Raised)","t":18,"v":-6.3},{"s":"Abs48 (Raised)","t":22,"v":-6.5},{"s":"Abs48 (Raised)","t":29.1,"v":-7.0},{"s":"Abs48 (Raised)","t":33,"v":-7.1},{"s":"Abs48 (Raised)","t":37.8,"v":-7.3},{"s":"Abs48 (Raised)","t":44.3,"v":-7.7},{"s":"Abs48 (Raised)","t":50.9,"v":-8.6},{"s":"Abs48 (Raised)","t":55,"v":-9.1},{"s":"Abs48 (Raised)","t":59.6,"v":-9.5},{"s":"Abs48 (Raised)","t":64,"v":-9.6},{"s":"Abs48 (Raised)","t":68.3,"v":-9.6},{"s":"Abs48 (Raised)","t":72,"v":-10.0},{"s":"Abs48 (Raised)","t":76.9,"v":-10.4},{"s":"Abs48 (Raised)","t":81,"v":-10.8},{"s":"Abs48 (Raised)","t":85.6,"v":-11.1},{"s":"Abs48 (Raised)","t":90,"v":-11.3},{"s":"Abs48 (Raised)","t":94.4,"v":-11.4},{"s":"Abs48 (Raised)","t":100,"v":-11.6},{"s":"Abs48 (Raised)","t":105.2,"v":-11.9},{"s":"Abs48 (Raised)","t":108.5,"v":-12.4},{"s":"Abs48 (Raised)","t":111.7,"v":-13.2},{"s":"Abs48 (Raised)","t":115,"v":-14.5},{"s":"Abs48 (Raised)","t":118.3,"v":-16.0},{"s":"Abs48 (Raised)","t":121.5,"v":-17.2},{"s":"Abs48 (Raised)","t":124.8,"v":-18.0},{"s":"Abs48 (Raised)","t":127.5,"v":-17.6},{"s":"Abs48 (Raised)","t":130.2,"v":-17.0},{"s":"Abs48 (Raised)","t":135.6,"v":-16.5},{"s":"Abs48 (Raised)","t":139,"v":-16.9},{"s":"Abs48 (Raised)","t":142.2,"v":-17.8},{"s":"Abs48 (Raised)","t":145.5,"v":-19.0},{"s":"Abs48 (Raised)","t":148.7,"v":-20.6},{"s":"Abs48 (Raised)","t":152,"v":-22.5},{"s":"Abs48 (Raised)","t":155,"v":-23.5},{"s":"Abs48 (Raised)","t":158,"v":-23.0},{"s":"Abs48 (Raised)","t":161.7,"v":-19.9},{"s":"Abs48 (Raised)","t":166,"v":-17.6},{"s":"Abs48 (Raised)","t":170.4,"v":-16.0},{"s":"Abs48 (Raised)","t":175,"v":-15.0},{"s":"Abs48 (Raised)","t":180,"v":-14.4},
{"s":"Abs18 (Floor)","t":-180,"v":-14.4},{"s":"Abs18 (Floor)","t":-172,"v":-14.8},{"s":"Abs18 (Floor)","t":-165,"v":-15.2},{"s":"Abs18 (Floor)","t":-157.8,"v":-15.5},{"s":"Abs18 (Floor)","t":-151,"v":-15.2},{"s":"Abs18 (Floor)","t":-144.8,"v":-14.9},{"s":"Abs18 (Floor)","t":-139,"v":-14.6},{"s":"Abs18 (Floor)","t":-133.9,"v":-14.4},{"s":"Abs18 (Floor)","t":-128,"v":-14.3},{"s":"Abs18 (Floor)","t":-123,"v":-14.3},{"s":"Abs18 (Floor)","t":-118,"v":-13.9},{"s":"Abs18 (Floor)","t":-114.3,"v":-13.3},{"s":"Abs18 (Floor)","t":-110,"v":-12.5},{"s":"Abs18 (Floor)","t":-105.7,"v":-11.9},{"s":"Abs18 (Floor)","t":-100,"v":-11.9},{"s":"Abs18 (Floor)","t":-94.8,"v":-12.1},{"s":"Abs18 (Floor)","t":-90,"v":-12.6},{"s":"Abs18 (Floor)","t":-86.1,"v":-13.4},{"s":"Abs18 (Floor)","t":-82,"v":-14.6},{"s":"Abs18 (Floor)","t":-77.4,"v":-16.0},{"s":"Abs18 (Floor)","t":-73,"v":-17.2},{"s":"Abs18 (Floor)","t":-68.7,"v":-17.8},{"s":"Abs18 (Floor)","t":-63,"v":-18.1},{"s":"Abs18 (Floor)","t":-57.8,"v":-18.2},{"s":"Abs18 (Floor)","t":-53,"v":-18.4},{"s":"Abs18 (Floor)","t":-48.1,"v":-18.6},{"s":"Abs18 (Floor)","t":-45,"v":-18.4},{"s":"Abs18 (Floor)","t":-42.6,"v":-18.1},{"s":"Abs18 (Floor)","t":-39,"v":-17.3},{"s":"Abs18 (Floor)","t":-36.1,"v":-16.5},{"s":"Abs18 (Floor)","t":-31,"v":-15.6},{"s":"Abs18 (Floor)","t":-27.4,"v":-14.9},{"s":"Abs18 (Floor)","t":-22,"v":-14.4},{"s":"Abs18 (Floor)","t":-16.5,"v":-13.9},{"s":"Abs18 (Floor)","t":-12,"v":-13.1},{"s":"Abs18 (Floor)","t":-7.7,"v":-12.2},{"s":"Abs18 (Floor)","t":-3.5,"v":-11.4},{"s":"Abs18 (Floor)","t":2,"v":-10.8},{"s":"Abs18 (Floor)","t":7.4,"v":-10.4},{"s":"Abs18 (Floor)","t":13,"v":-10.0},{"s":"Abs18 (Floor)","t":18.3,"v":-9.8},{"s":"Abs18 (Floor)","t":23,"v":-9.9},{"s":"Abs18 (Floor)","t":29.1,"v":-10.1},{"s":"Abs18 (Floor)","t":35,"v":-10.3},{"s":"Abs18 (Floor)","t":42.2,"v":-10.6},{"s":"Abs18 (Floor)","t":46,"v":-11.0},{"s":"Abs18 (Floor)","t":50.9,"v":-11.4},{"s":"Abs18 (Floor)","t":55,"v":-11.8},{"s":"Abs18 (Floor)","t":59.6,"v":-12.0},{"s":"Abs18 (Floor)","t":64,"v":-12.2},{"s":"Abs18 (Floor)","t":68.3,"v":-12.5},{"s":"Abs18 (Floor)","t":72,"v":-12.8},{"s":"Abs18 (Floor)","t":76,"v":-13.3},{"s":"Abs18 (Floor)","t":79.2,"v":-13.6},{"s":"Abs18 (Floor)","t":83,"v":-13.4},{"s":"Abs18 (Floor)","t":87.8,"v":-13.1},{"s":"Abs18 (Floor)","t":92,"v":-13.3},{"s":"Abs18 (Floor)","t":96.5,"v":-13.7},{"s":"Abs18 (Floor)","t":102,"v":-14.4},{"s":"Abs18 (Floor)","t":107.4,"v":-15.2},{"s":"Abs18 (Floor)","t":113,"v":-16.0},{"s":"Abs18 (Floor)","t":118.3,"v":-16.8},{"s":"Abs18 (Floor)","t":122.5,"v":-17.5},{"s":"Abs18 (Floor)","t":126.9,"v":-18.3},{"s":"Abs18 (Floor)","t":132,"v":-19.1},{"s":"Abs18 (Floor)","t":137.8,"v":-20.0},{"s":"Abs18 (Floor)","t":142,"v":-21.2},{"s":"Abs18 (Floor)","t":146,"v":-22.0},{"s":"Abs18 (Floor)","t":149,"v":-21.5},{"s":"Abs18 (Floor)","t":153,"v":-20.1},{"s":"Abs18 (Floor)","t":156,"v":-18.8},{"s":"Abs18 (Floor)","t":159.6,"v":-17.5},{"s":"Abs18 (Floor)","t":165,"v":-16.2},{"s":"Abs18 (Floor)","t":170.4,"v":-15.3},{"s":"Abs18 (Floor)","t":175,"v":-14.7},{"s":"Abs18 (Floor)","t":180,"v":-14.3},
{"s":"Abs18 (Raised)","t":-180,"v":-14.1},{"s":"Abs18 (Raised)","t":-172,"v":-14.6},{"s":"Abs18 (Raised)","t":-165.2,"v":-14.9},{"s":"Abs18 (Raised)","t":-159,"v":-15.5},{"s":"Abs18 (Raised)","t":-155,"v":-14.6},{"s":"Abs18 (Raised)","t":-151.3,"v":-13.3},{"s":"Abs18 (Raised)","t":-147,"v":-12.2},{"s":"Abs18 (Raised)","t":-142.6,"v":-11.3},{"s":"Abs18 (Raised)","t":-138,"v":-10.8},{"s":"Abs18 (Raised)","t":-133.9,"v":-10.6},{"s":"Abs18 (Raised)","t":-129,"v":-10.8},{"s":"Abs18 (Raised)","t":-125.2,"v":-10.9},{"s":"Abs18 (Raised)","t":-121,"v":-10.7},{"s":"Abs18 (Raised)","t":-116.5,"v":-10.4},{"s":"Abs18 (Raised)","t":-111,"v":-10.0},{"s":"Abs18 (Raised)","t":-105.7,"v":-9.6},{"s":"Abs18 (Raised)","t":-100,"v":-9.2},{"s":"Abs18 (Raised)","t":-94.8,"v":-8.9},{"s":"Abs18 (Raised)","t":-90,"v":-9.1},{"s":"Abs18 (Raised)","t":-86.1,"v":-9.6},{"s":"Abs18 (Raised)","t":-80,"v":-10.4},{"s":"Abs18 (Raised)","t":-75.2,"v":-11.1},{"s":"Abs18 (Raised)","t":-70,"v":-11.9},{"s":"Abs18 (Raised)","t":-64.4,"v":-12.7},{"s":"Abs18 (Raised)","t":-59,"v":-13.5},{"s":"Abs18 (Raised)","t":-53.5,"v":-14.2},{"s":"Abs18 (Raised)","t":-47,"v":-14.7},{"s":"Abs18 (Raised)","t":-43,"v":-14.8},{"s":"Abs18 (Raised)","t":-38.2,"v":-14.5},{"s":"Abs18 (Raised)","t":-34,"v":-13.7},{"s":"Abs18 (Raised)","t":-29.6,"v":-12.7},{"s":"Abs18 (Raised)","t":-25,"v":-11.6},{"s":"Abs18 (Raised)","t":-20.9,"v":-10.6},{"s":"Abs18 (Raised)","t":-15,"v":-9.6},{"s":"Abs18 (Raised)","t":-10,"v":-8.8},{"s":"Abs18 (Raised)","t":-5,"v":-8.3},{"s":"Abs18 (Raised)","t":-1.3,"v":-7.8},{"s":"Abs18 (Raised)","t":3,"v":-7.3},{"s":"Abs18 (Raised)","t":7.4,"v":-6.8},{"s":"Abs18 (Raised)","t":12,"v":-6.2},{"s":"Abs18 (Raised)","t":18.3,"v":-5.7},{"s":"Abs18 (Raised)","t":23,"v":-5.9},{"s":"Abs18 (Raised)","t":29.1,"v":-6.3},{"s":"Abs18 (Raised)","t":35,"v":-6.6},{"s":"Abs18 (Raised)","t":42.2,"v":-6.9},{"s":"Abs18 (Raised)","t":46,"v":-7.1},{"s":"Abs18 (Raised)","t":50.9,"v":-7.5},{"s":"Abs18 (Raised)","t":54,"v":-8.0},{"s":"Abs18 (Raised)","t":57.4,"v":-8.6},{"s":"Abs18 (Raised)","t":62,"v":-8.9},{"s":"Abs18 (Raised)","t":68.3,"v":-9.2},{"s":"Abs18 (Raised)","t":72,"v":-9.3},{"s":"Abs18 (Raised)","t":76.9,"v":-9.5},{"s":"Abs18 (Raised)","t":82,"v":-9.8},{"s":"Abs18 (Raised)","t":87.8,"v":-10.1},{"s":"Abs18 (Raised)","t":93,"v":-10.5},{"s":"Abs18 (Raised)","t":98.7,"v":-11.0},{"s":"Abs18 (Raised)","t":103,"v":-11.2},{"s":"Abs18 (Raised)","t":107.4,"v":-11.4},{"s":"Abs18 (Raised)","t":110.5,"v":-11.9},{"s":"Abs18 (Raised)","t":113.9,"v":-12.7},{"s":"Abs18 (Raised)","t":117,"v":-14.0},{"s":"Abs18 (Raised)","t":120.4,"v":-15.5},{"s":"Abs18 (Raised)","t":123.5,"v":-16.4},{"s":"Abs18 (Raised)","t":126.9,"v":-16.8},{"s":"Abs18 (Raised)","t":130,"v":-16.2},{"s":"Abs18 (Raised)","t":133.5,"v":-15.2},{"s":"Abs18 (Raised)","t":136.5,"v":-14.8},{"s":"Abs18 (Raised)","t":140,"v":-14.6},{"s":"Abs18 (Raised)","t":143.5,"v":-15.2},{"s":"Abs18 (Raised)","t":146.5,"v":-16.3},{"s":"Abs18 (Raised)","t":148.5,"v":-17.4},{"s":"Abs18 (Raised)","t":150.9,"v":-18.6},{"s":"Abs18 (Raised)","t":154,"v":-20.5},{"s":"Abs18 (Raised)","t":156.5,"v":-21.2},{"s":"Abs18 (Raised)","t":159,"v":-20.3},{"s":"Abs18 (Raised)","t":161.7,"v":-18.6},{"s":"Abs18 (Raised)","t":166,"v":-17.1},{"s":"Abs18 (Raised)","t":170.4,"v":-16.0},{"s":"Abs18 (Raised)","t":175,"v":-14.8},{"s":"Abs18 (Raised)","t":180,"v":-13.9},
{"s":"PEC (Floor)","t":-180,"v":-11.0},{"s":"PEC (Floor)","t":-172,"v":-11.4},{"s":"PEC (Floor)","t":-164.4,"v":-11.8},{"s":"PEC (Floor)","t":-160,"v":-11.6},{"s":"PEC (Floor)","t":-155.7,"v":-11.1},{"s":"PEC (Floor)","t":-151,"v":-10.3},{"s":"PEC (Floor)","t":-147,"v":-9.8},{"s":"PEC (Floor)","t":-143,"v":-9.9},{"s":"PEC (Floor)","t":-140.4,"v":-10.0},{"s":"PEC (Floor)","t":-136.1,"v":-10.2},{"s":"PEC (Floor)","t":-132.5,"v":-10.0},{"s":"PEC (Floor)","t":-129.6,"v":-9.6},{"s":"PEC (Floor)","t":-125,"v":-8.7},{"s":"PEC (Floor)","t":-120.9,"v":-7.8},{"s":"PEC (Floor)","t":-116,"v":-7.1},{"s":"PEC (Floor)","t":-112.2,"v":-6.8},{"s":"PEC (Floor)","t":-108,"v":-6.7},{"s":"PEC (Floor)","t":-103.5,"v":-6.8},{"s":"PEC (Floor)","t":-99,"v":-6.9},{"s":"PEC (Floor)","t":-94.8,"v":-7.0},{"s":"PEC (Floor)","t":-90,"v":-7.4},{"s":"PEC (Floor)","t":-86.1,"v":-8.1},{"s":"PEC (Floor)","t":-82,"v":-9.0},{"s":"PEC (Floor)","t":-77.4,"v":-10.1},{"s":"PEC (Floor)","t":-74,"v":-10.5},{"s":"PEC (Floor)","t":-72,"v":-10.6},{"s":"PEC (Floor)","t":-68,"v":-10.1},{"s":"PEC (Floor)","t":-64.4,"v":-9.3},{"s":"PEC (Floor)","t":-60,"v":-8.7},{"s":"PEC (Floor)","t":-55.6,"v":-8.4},{"s":"PEC (Floor)","t":-51,"v":-8.6},{"s":"PEC (Floor)","t":-47,"v":-8.9},{"s":"PEC (Floor)","t":-43,"v":-9.3},{"s":"PEC (Floor)","t":-39.4,"v":-9.6},{"s":"PEC (Floor)","t":-35,"v":-9.2},{"s":"PEC (Floor)","t":-29.6,"v":-8.3},{"s":"PEC (Floor)","t":-25,"v":-7.5},{"s":"PEC (Floor)","t":-20.9,"v":-6.9},{"s":"PEC (Floor)","t":-15,"v":-6.4},{"s":"PEC (Floor)","t":-10,"v":-6.1},{"s":"PEC (Floor)","t":-5,"v":-5.8},{"s":"PEC (Floor)","t":-1.3,"v":-5.6},{"s":"PEC (Floor)","t":3,"v":-5.4},{"s":"PEC (Floor)","t":7.4,"v":-5.2},{"s":"PEC (Floor)","t":12,"v":-5.0},{"s":"PEC (Floor)","t":18.3,"v":-4.8},{"s":"PEC (Floor)","t":23,"v":-4.9},{"s":"PEC (Floor)","t":29.1,"v":-5.2},{"s":"PEC (Floor)","t":33,"v":-5.6},{"s":"PEC (Floor)","t":37.8,"v":-6.0},{"s":"PEC (Floor)","t":42,"v":-6.4},{"s":"PEC (Floor)","t":46.5,"v":-6.8},{"s":"PEC (Floor)","t":51,"v":-7.1},{"s":"PEC (Floor)","t":55.2,"v":-7.4},{"s":"PEC (Floor)","t":59.5,"v":-7.8},{"s":"PEC (Floor)","t":63.9,"v":-8.2},{"s":"PEC (Floor)","t":68,"v":-8.7},{"s":"PEC (Floor)","t":72.6,"v":-9.2},{"s":"PEC (Floor)","t":76,"v":-9.6},{"s":"PEC (Floor)","t":79.2,"v":-9.8},{"s":"PEC (Floor)","t":84,"v":-9.9},{"s":"PEC (Floor)","t":90,"v":-10.0},{"s":"PEC (Floor)","t":95,"v":-10.2},{"s":"PEC (Floor)","t":98.7,"v":-10.2},{"s":"PEC (Floor)","t":101.5,"v":-9.8},{"s":"PEC (Floor)","t":104.1,"v":-9.3},{"s":"PEC (Floor)","t":108,"v":-8.6},{"s":"PEC (Floor)","t":111.7,"v":-8.3},{"s":"PEC (Floor)","t":115,"v":-8.5},{"s":"PEC (Floor)","t":120.4,"v":-9.3},{"s":"PEC (Floor)","t":125,"v":-10.4},{"s":"PEC (Floor)","t":130.2,"v":-11.4},{"s":"PEC (Floor)","t":134,"v":-11.0},{"s":"PEC (Floor)","t":137.8,"v":-10.6},{"s":"PEC (Floor)","t":141,"v":-10.4},{"s":"PEC (Floor)","t":144.4,"v":-10.4},{"s":"PEC (Floor)","t":147.5,"v":-11.0},{"s":"PEC (Floor)","t":150.9,"v":-12.0},{"s":"PEC (Floor)","t":155,"v":-13.4},{"s":"PEC (Floor)","t":159.6,"v":-14.9},{"s":"PEC (Floor)","t":163.5,"v":-15.6},{"s":"PEC (Floor)","t":166.5,"v":-15.3},{"s":"PEC (Floor)","t":170.4,"v":-14.2},{"s":"PEC (Floor)","t":175,"v":-12.8},{"s":"PEC (Floor)","t":180,"v":-11.3}
]
},
"spacing": 34,
"resolve": {"scale": {"x": "independent", "y": "independent"}, "legend": {"color": "independent", "strokeDash": "independent", "strokeWidth": "independent"}},
"hconcat": [
{
  "width": 552, "height": 390,
  "title": {"text": "Cut at ϕ = 0°", "fontSize": 15, "fontWeight": "bold", "color": "#000000", "offset": -2, "frame": "group", "anchor": "middle"},
  "encoding": {"x": {"field": "t", "type": "quantitative", "title": "Theta (°)", "scale": {"domain": [-180, 180], "nice": false, "zero": false},
    "axis": {"values": [-180,-170,-160,-150,-140,-130,-120,-110,-100,-90,-80,-70,-60,-50,-40,-30,-20,-10,0,10,20,30,40,50,60,70,80,90,100,110,120,130,140,150,160,170,180],
      "labelExpr": "datum.value % 30 === 0 ? '' + datum.value : ''",
      "gridColor": {"condition": {"test": "datum.value % 30 === 0", "value": "#d6d6d6"}, "value": "#ebebeb"},
      "gridDash": {"condition": {"test": "datum.value % 30 === 0", "value": []}, "value": [1, 2]}}}},
  "layer": [
    {"data": {"name": "shade"}, "mark": {"type": "rect", "fill": "#d2d2d2", "opacity": 0.7, "stroke": "#8f8f8f", "strokeWidth": 1}, "encoding": {"x2": {"field": "t2"}}},
    {"data": {"name": "phi0"}, "mark": {"type": "line", "interpolate": "monotone", "clip": true},
     "encoding": {
       "y": {"field": "v", "type": "quantitative", "title": "dBi", "scale": {"domain": [-40, 0], "nice": false, "zero": false},
         "axis": {"values": [-40,-39,-38,-37,-36,-35,-34,-33,-32,-31,-30,-29,-28,-27,-26,-25,-24,-23,-22,-21,-20,-19,-18,-17,-16,-15,-14,-13,-12,-11,-10,-9,-8,-7,-6,-5,-4,-3,-2,-1,0],
           "labelExpr": "datum.value % 5 === 0 ? '' + datum.value : ''",
           "gridColor": {"condition": {"test": "datum.value % 5 === 0", "value": "#d6d6d6"}, "value": "#ebebeb"},
           "gridDash": {"condition": {"test": "datum.value % 5 === 0", "value": []}, "value": [1, 2]}}},
       "color": {"field": "s", "type": "nominal", "scale": {"domain": ["Free Space", "FreeSpace (Trunc)", "Abs48 (Raised)", "Abs18 (Floor)", "Abs18 (Raised)", "PEC (Floor)"], "range": ["#0072BD", "#EDB120", "#E8896A", "#9DC46F", "#9DC46F", "#4d4d4d"]}},
       "strokeDash": {"field": "s", "type": "nominal", "scale": {"domain": ["Free Space", "FreeSpace (Trunc)", "Abs48 (Raised)", "Abs18 (Floor)", "Abs18 (Raised)", "PEC (Floor)"], "range": [[1, 0], [6, 2, 1.5, 2], [1, 0], [1, 0], [5, 3], [6, 2, 1.5, 2]]}},
       "strokeWidth": {"field": "s", "type": "nominal", "scale": {"domain": ["Free Space", "FreeSpace (Trunc)", "Abs48 (Raised)", "Abs18 (Floor)", "Abs18 (Raised)", "PEC (Floor)"], "range": [2.2, 1.5, 1.3, 1.3, 1.3, 1.2]}}
     }}
  ]
},
{
  "width": 552, "height": 390,
  "title": {"text": "Cut at θ = 85°", "fontSize": 15, "fontWeight": "bold", "color": "#000000", "offset": -2, "frame": "group", "anchor": "middle"},
  "data": {"name": "theta85"},
  "mark": {"type": "line", "interpolate": "monotone", "clip": true},
  "encoding": {
    "x": {"field": "t", "type": "quantitative", "title": "Phi (°)", "scale": {"domain": [-180, 180], "nice": false, "zero": false},
      "axis": {"values": [-180,-175,-170,-165,-160,-155,-150,-145,-140,-135,-130,-125,-120,-115,-110,-105,-100,-95,-90,-85,-80,-75,-70,-65,-60,-55,-50,-45,-40,-35,-30,-25,-20,-15,-10,-5,0,5,10,15,20,25,30,35,40,45,50,55,60,65,70,75,80,85,90,95,100,105,110,115,120,125,130,135,140,145,150,155,160,165,170,175,180],
        "labelExpr": "datum.value % 30 === 0 ? '' + datum.value : ''",
        "gridColor": {"condition": {"test": "datum.value % 30 === 0", "value": "#d6d6d6"}, "value": "#ebebeb"},
        "gridDash": {"condition": {"test": "datum.value % 30 === 0", "value": []}, "value": [1, 2]}}},
    "y": {"field": "v", "type": "quantitative", "title": "dBi", "scale": {"domain": [-30, 0], "nice": false, "zero": false},
      "axis": {"values": [-30,-29.5,-29,-28.5,-28,-27.5,-27,-26.5,-26,-25.5,-25,-24.5,-24,-23.5,-23,-22.5,-22,-21.5,-21,-20.5,-20,-19.5,-19,-18.5,-18,-17.5,-17,-16.5,-16,-15.5,-15,-14.5,-14,-13.5,-13,-12.5,-12,-11.5,-11,-10.5,-10,-9.5,-9,-8.5,-8,-7.5,-7,-6.5,-6,-5.5,-5,-4.5,-4,-3.5,-3,-2.5,-2,-1.5,-1,-0.5,0],
        "labelExpr": "datum.value % 5 === 0 ? '' + datum.value : ''",
        "gridColor": {"condition": {"test": "datum.value % 5 === 0", "value": "#d6d6d6"}, "value": "#ebebeb"},
        "gridDash": {"condition": {"test": "datum.value % 5 === 0", "value": []}, "value": [1, 2]}}},
    "color": {"field": "s", "type": "nominal", "scale": {"domain": ["Free Space", "FreeSpace (Trunc)", "Abs48 (Raised)", "Abs18 (Floor)", "Abs18 (Raised)", "PEC (Floor)"], "range": ["#0072BD", "#EDB120", "#E8896A", "#9DC46F", "#9DC46F", "#4d4d4d"]}},
    "strokeDash": {"field": "s", "type": "nominal", "scale": {"domain": ["Free Space", "FreeSpace (Trunc)", "Abs48 (Raised)", "Abs18 (Floor)", "Abs18 (Raised)", "PEC (Floor)"], "range": [[1, 0], [6, 2, 1.5, 2], [1, 0], [1, 0], [5, 3], [6, 2, 1.5, 2]]}},
    "strokeWidth": {"field": "s", "type": "nominal", "scale": {"domain": ["Free Space", "FreeSpace (Trunc)", "Abs48 (Raised)", "Abs18 (Floor)", "Abs18 (Raised)", "PEC (Floor)"], "range": [2.2, 1.5, 1.3, 1.3, 1.3, 1.2]}}
  }
}
]
}
